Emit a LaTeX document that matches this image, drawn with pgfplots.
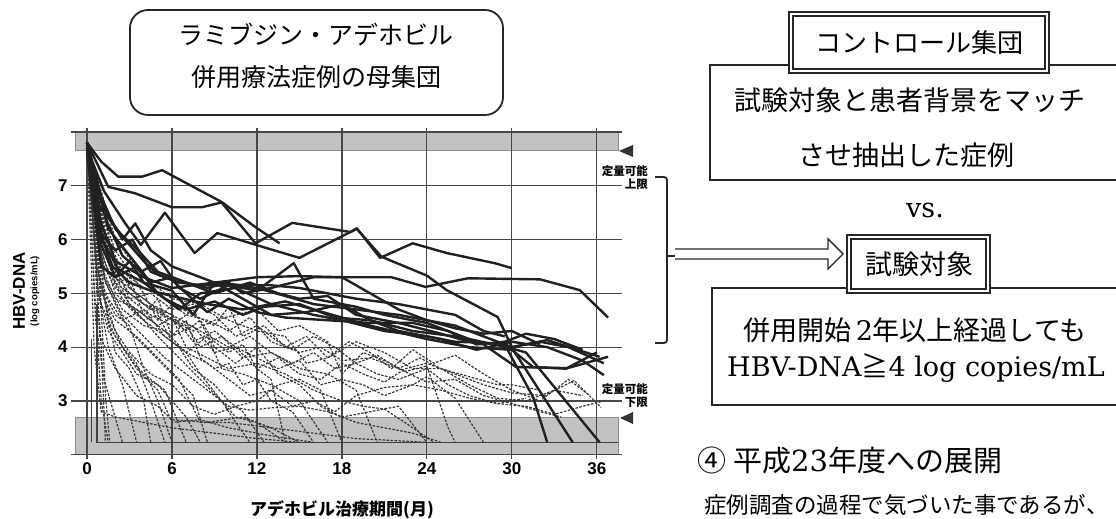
\documentclass[border=0pt]{standalone}
\usepackage{fontspec}
\setmainfont{Liberation Sans}
\newfontfamily\jp{Noto Sans CJK JP}
\newfontfamily\serifb{DejaVu Serif}
\usepackage{pgfplots}
\pgfplotsset{compat=1.18}
\newcommand\fs[1]{\fontsize{#1}{#1}\selectfont}
\pgfplotsset{
  sol/.style={color=black!87, line width=2.4pt, line join=round, mark=none},
  dsh/.style={color=black!78, line width=1.2pt, dash pattern=on 2.5pt off 1.5pt, line join=round, mark=none},
}
\begin{document}
\begin{tikzpicture}
\begin{axis}[
  at={(75pt,64.3pt)}, anchor=south west,
  scale only axis, width=543pt, height=322.7pt,
  xmin=-0.85, xmax=37.5, ymin=2, ymax=8,
  set layers,
  xtick={0,6,...,36}, ytick={3,4,5,6,7},
  extra y ticks={2,8}, extra y tick labels={},
  axis line style={draw=none},
  grid=major,
  major grid style={draw=black!72, line width=1.2pt},
  tick style={draw=black!72, line width=1.2pt},
  tick align=outside, major tick length=4pt,
  /pgf/number format/assume math mode=true,
  tick label style={font=\fs{17}\bfseries},
  clip=false,
]
% bands (limits of quantification)
\addplot[draw=black!45, fill=black!24, line width=0.8pt, on layer=axis background] coordinates {(-0.85,7.66)(37.5,7.66)(37.5,8)(-0.85,8)(-0.85,7.66)};
\addplot[draw=black!45, fill=black!24, line width=0.8pt, on layer=axis background] coordinates {(-0.85,2)(37.5,2)(37.5,2.69)(-0.85,2.69)(-0.85,2)};
% floor line and early drops
\addplot[color=black!75, line width=1.2pt] coordinates {(0.7,4.8)(0.7,2.23)(37.5,2.23)};
\addplot[color=black!75, line width=1.0pt] coordinates {(0.3,4.15)(0.3,2.23)};
% dashed series
\addplot[dsh] coordinates {(0,7.8)(0.5,5.2)(1,3.0)(1.5,2.23)};
\addplot[dsh] coordinates {(0,7.8)(0.6,4.5)(1.2,3.4)(2.5,2.23)};
\addplot[dsh] coordinates {(0,7.8)(0.8,5.0)(1.5,4.0)(2.5,3.3)(3.5,2.23)};
\addplot[dsh] coordinates {(0,7.7)(0.7,5.5)(1.5,4.6)(2.5,4.0)(3.5,3.7)(4.5,3.0)(5.5,2.23)};
\addplot[dsh] coordinates {(0,7.8)(1,5.4)(2,4.8)(3,4.3)(4.5,3.9)(6,3.5)(7.5,3.1)(8.5,2.23)};
\addplot[dsh] coordinates {(0,7.8)(0.9,6.0)(2,5.2)(3,4.8)(4,4.5)(5,4.2)(6.5,3.8)(8,3.4)(9.5,3.0)(10.5,2.7)(12,2.6)(14,2.23)};
\addplot[dsh] coordinates {(0,7.8)(1,5.8)(2,5.0)(3.5,4.6)(5,4.3)(6.5,4.0)(7.5,3.6)(9,3.3)(10,3.0)(11,2.8)(12.5,2.23)};
\addplot[dsh] coordinates {(0,7.75)(1.2,5.6)(2.5,4.9)(4,4.5)(5,4.6)(6,4.1)(7,3.9)(8.5,4.2)(9.5,3.6)(11,3.5)(13,3.3)(15,3.0)(17,2.23)};
\addplot[dsh] coordinates {(0,7.8)(1,6.2)(2,5.2)(3,5.0)(4,4.8)(5.5,4.6)(7,4.4)(8,4.0)(9.5,4.2)(11,3.8)(13,3.9)(15,3.6)(17,3.5)(19,3.2)(20.5,2.23)};
\addplot[dsh] coordinates {(0,7.7)(0.8,5.0)(1.5,4.3)(2.5,3.9)(3.5,3.5)(5,3.3)(6,3.0)(7,2.7)(8,2.23)};
\addplot[dsh] coordinates {(0,7.8)(1,4.8)(2,4.2)(3.5,3.6)(5,3.2)(6,2.6)(8,2.65)(10,2.5)(13,2.35)(16,2.23)};
\addplot[dsh] coordinates {(0,7.8)(0.5,6.0)(1,4.0)(1.3,2.23)};
\addplot[dsh] coordinates {(0,7.8)(1.5,5.8)(3,4.9)(4.5,4.6)(6,4.4)(7.5,4.7)(9,4.0)(10.5,3.7)(12,4.0)(13.5,3.5)(15,3.3)(16.5,2.9)(18,2.7)(20,2.8)(22,2.9)(24,2.23)};
\addplot[dsh] coordinates {(0,7.8)(1,5.5)(2,4.9)(3.5,4.7)(5,4.4)(6,4.55)(7,4.0)(8.5,3.8)(10,3.6)(12,3.7)(14,3.5)(16,3.2)(18,3.0)(19.5,2.9)(21,2.85)(23,2.5)(24.5,2.23)};
\addplot[dsh] coordinates {(0,7.7)(1.3,5.2)(2.5,4.6)(4,4.2)(5.5,3.8)(7,3.5)(8.5,3.2)(10,2.9)(11.5,2.83)(13,2.87)(15,2.9)(17,2.8)(19,2.6)(21,2.5)(23,2.4)(25,2.23)};
\addplot[dsh] coordinates {(0,7.8)(1,5.0)(2,4.5)(3.5,4.2)(5,3.8)(6.5,3.4)(8,2.6)(10,2.6)(13,2.5)(16,2.4)(19,2.3)(24,2.23)};
\addplot[dsh] coordinates {(0,7.8)(2,5.5)(4,4.8)(6,4.6)(8,4.3)(10,4.0)(11.5,4.2)(13,3.9)(14.5,3.7)(16,3.9)(17.5,3.6)(19,3.7)(20.5,3.5)(22,3.4)(24,3.6)(25.5,3.3)(27,3.1)(29,2.95)(31,2.9)(33,2.75)(35,2.9)(36.5,3.0)};
\addplot[dsh] coordinates {(0,7.8)(1.5,5.9)(3,5.1)(4.5,4.8)(6,4.6)(7.5,4.1)(9,4.3)(10.5,4.0)(12,3.6)(13.5,3.8)(15,3.5)(16.5,3.4)(18,3.7)(19.5,3.5)(21,3.35)(22.5,3.6)(24,3.7)(26,3.5)(28,3.3)(30,3.15)(32.3,3.1)(34.4,3.38)(36.3,2.88)};
\addplot[dsh] coordinates {(0,7.8)(1,6.3)(2.5,5.4)(4,5.1)(5.5,4.9)(7,4.6)(8.5,4.5)(10,4.3)(11.5,4.55)(13,4.1)(14.5,3.95)(16,4.2)(17.5,4.0)(19,3.7)(20.5,3.85)(22,3.6)(23.5,3.8)(25,3.6)(27,3.3)(29,3.05)(31,3.0)(33,3.2)(35,3.1)};
\addplot[dsh] coordinates {(0,7.75)(1.2,5.3)(2.5,4.7)(4,4.4)(5.5,4.3)(7,3.9)(8.5,3.7)(10,3.4)(11.5,3.1)(13,3.2)(14.5,2.9)(16,3.0)(17.5,2.8)(19,3.1)(21,3.25)(23,3.3)(25,3.2)(27,3.05)(29,2.95)(31,3.05)};
\addplot[dsh] coordinates {(0,7.8)(1.5,5.6)(3,4.8)(4.5,4.5)(6,4.2)(7.5,4.4)(9,3.9)(10.5,4.0)(12,3.8)(13.5,3.6)(15,3.75)(16.5,3.3)(18,3.4)(19.5,3.3)(21,3.1)(23,3.3)(24,3.45)(26,3.05)(28,2.23)};
\addplot[dsh] coordinates {(0,7.8)(1,5.1)(2,4.3)(3,3.9)(4.5,3.5)(6,3.3)(7.5,2.9)(9,2.75)(10.5,2.9)(12,3.0)(13.5,3.3)(15,3.4)(16.5,3.2)(18,2.23)};
\addplot[dsh] coordinates {(0,7.8)(0.7,5.4)(1.5,4.9)(2.5,4.5)(4,4.7)(5.5,4.2)(7,3.9)(8,3.5)(9.5,3.0)(10.5,2.6)(11.5,2.23)};
\addplot[dsh] coordinates {(0,7.8)(1,6.5)(2,5.8)(3,5.4)(4,5.0)(5,4.5)(6,4.8)(7.5,4.6)(9,4.4)(10,4.75)(11,4.2)(12.5,4.4)(14,4.0)(15.5,4.2)(17,3.8)(18.5,4.1)(20,3.9)(21.5,3.6)(23,3.95)(24.5,3.7)(26,3.85)(28,3.5)(30,3.2)(32,3.0)(34,3.4)(35.5,3.1)};
\addplot[dsh] coordinates {(0,7.8)(1,6.0)(2,5.4)(3,5.0)(4.5,4.7)(6,4.5)(7.5,4.3)(9,4.5)(10.5,4.6)(12,4.7)(13.5,4.3)(15,4.4)(17,4.1)(18,3.5)(19.5,3.9)(21,3.75)(22.5,3.55)(24,3.65)(25.5,2.5)(26,2.23)};
\addplot[dsh] coordinates {(0,7.8)(0.5,4.0)(1,2.8)(2,2.7)(4,2.6)(6,2.5)(9,2.4)(12,2.3)(15,2.23)};
\addplot[dsh] coordinates {(0,7.8)(2,6.0)(4,5.3)(6,4.9)(8,4.8)(10,4.5)(12,4.3)(14,4.2)(15.5,3.7)(17,3.8)(19,4.1)(21,3.9)(23,3.6)(25,3.6)(27,3.45)(29,3.3)(30,3.3)(32,3.2)};
\addplot[dsh] coordinates {(0,7.8)(0.9,4.2)(2,3.6)(3.5,3.1)(5,2.9)(6,2.65)(8.5,2.6)(11,2.7)(13,2.5)(15,2.23)};
\addplot[dsh] coordinates {(0,7.8)(1.5,4.4)(3,3.8)(4,3.5)(5.5,3.2)(7,2.23)};
\addplot[dsh] coordinates {(0,7.8)(0.4,6.5)(0.8,5.8)(1.2,5.0)(2,4.6)(3,4.4)(4,3.6)(5,3.0)(6,2.23)};
\addplot[dsh] coordinates {(0,7.8)(0.6,6.3)(1.2,5.5)(2,5.3)(3,5.1)(4,4.9)(5,4.7)(6,4.5)(7,4.3)(8,4.5)(9,4.1)(10,3.9)(11,4.05)(12,3.6)(13,3.4)(14,2.23)};
\addplot[dsh] coordinates {(0,7.8)(0.3,7.0)(0.6,5.9)(1,5.2)(1.5,4.5)(2,3.9)(3,3.6)(4,3.0)(4.5,2.23)};
\addplot[dsh] coordinates {(0,7.8)(0.7,6.6)(1.4,5.7)(2.2,5.2)(3,5.3)(4,4.6)(5,4.9)(6,4.2)(7,4.5)(8,3.8)(9,3.6)(10,3.7)(11,3.3)(12,3.4)(13,3.0)(14.5,2.8)(16,2.23)};
\addplot[dsh] coordinates {(0,7.8)(0.2,7.2)(0.5,6.4)(0.8,5.6)(1.1,4.2)(1.3,3.1)(1.6,2.23)};
\addplot[dsh] coordinates {(0,7.8)(1,5.6)(2,5.1)(3,4.9)(4.5,5.0)(6,4.7)(7.5,4.8)(9,4.6)(10.5,4.2)(12,4.4)(13.5,4.1)(15,3.9)(16.5,4.0)(18,3.75)(20,3.8)(22,3.6)(24,3.35)(26,3.4)(28,3.1)(30,2.95)(32,2.8)(33.5,2.7)};
% solid series
\addplot[sol] coordinates {(0,7.8)(1,7.45)(2.2,7.17)(3.9,7.17)(5.3,7.29)(9.5,6.7)(11.9,6.23)(13.6,5.93)};
\addplot[sol] coordinates {(0,7.8)(1.5,6.98)(3.4,6.86)(6,6.6)(8.1,6.6)(9.5,6.69)(11.9,5.93)(14.5,6.31)(18.6,6.14)(19.05,6.21)(20.7,5.66)(23,5.93)(25.4,5.75)(28.8,5.56)(30,5.47)};
\addplot[sol] coordinates {(0,7.7)(1.2,6.9)(2.7,6.3)(3.8,5.9)(5.5,6.5)(6.2,6.25)(7.6,5.75)(9.2,6.12)(12.7,5.84)(15,5.66)(19.05,6.2)(20.8,5.68)(24,5.33)(25.4,5.06)(29,4.56)(30.1,3.95)(34.3,2.23)};
\addplot[sol] coordinates {(0,7.8)(1,6.3)(2,5.6)(4,5.3)(6,5.1)(9,5.2)(12,5.3)(15,5.32)(18,5.3)(21.5,5.3)(23.9,5.12)(26.9,5.28)(32,5.26)(34.8,5.06)(36.8,4.55)};
\addplot[sol] coordinates {(0,7.75)(1.3,6.4)(2.5,5.7)(3.8,5.4)(5.2,5.6)(6.5,5.1)(8,4.9)(10,5.15)(12,5.05)(14.6,5.56)(16,4.9)(19,4.75)(21,4.6)(24,4.45)(27,4.15)(29.6,4.0)(31.5,3.07)(32.5,2.23)};
\addplot[sol] coordinates {(0,7.8)(1,5.9)(2,5.3)(3.5,5.5)(5,5.0)(6.5,4.7)(8,5.0)(10.5,5.1)(13,4.8)(16,4.6)(18,4.5)(21,4.3)(24,4.2)(26,4.1)(28.2,4.08)(30,4.0)(32.5,4.13)(36.2,3.82)};
\addplot[sol] coordinates {(0,7.7)(0.8,6.2)(1.8,5.5)(3,5.2)(4.5,5.05)(6,4.95)(8.5,4.8)(11,4.7)(14,4.85)(16,4.7)(20,4.4)(24,4.15)(27,4.0)(30,3.95)(31.5,3.63)(33.8,3.6)(36.8,3.82)};
\addplot[sol] coordinates {(0,7.8)(1.1,6.0)(2.2,5.45)(4,5.2)(6,5.05)(7.5,4.6)(9,5.2)(11,4.9)(13,4.6)(15.5,4.65)(18,4.8)(20,4.5)(23,4.3)(26,4.2)(28,4.05)(30.3,3.63)(33.9,3.61)(36,3.9)};
\addplot[sol] coordinates {(0,7.8)(1.5,6.2)(3,5.7)(4.5,5.2)(6,5.3)(7.5,5.15)(9,5.0)(11.5,5.2)(13.5,5.0)(15,4.9)(17,4.95)(19,4.6)(22,4.45)(25,4.25)(27,4.1)(29,4.05)(31,3.9)(36.2,2.23)};
\addplot[sol] coordinates {(0,7.6)(1,5.5)(2,5.3)(3,5.6)(4,5.2)(5.5,4.9)(7,4.7)(9,4.85)(11,4.6)(12.5,4.75)(15,4.8)(17.5,4.55)(20,4.5)(22,4.3)(25,4.15)(27.5,3.95)(30,4.1)(32.5,4.0)(35,3.75)(36.5,3.48)};
\addplot[sol] coordinates {(0,7.75)(0.9,6.6)(2.4,6.1)(3.6,5.8)(5,5.4)(7,5.2)(8.5,5.1)(10,5.2)(11,5.0)(13,5.1)(16,5.3)(18,5.3)(20,5.0)(22,4.7)(24,4.5)(26,4.4)(28,4.2)(30,4.0)(32,4.1)(34,4.0)(36.5,3.7)};
\addplot[sol] coordinates {(0,7.8)(1,6.8)(2,6.2)(3,5.9)(4,5.6)(5,5.35)(6.5,5.2)(8,5.15)(10,5.15)(12,5.1)(14,4.95)(16,4.8)(19,4.7)(22,4.6)(24,4.5)(26,4.35)(28,4.25)(30,4.3)(32,4.05)};
\addplot[sol] coordinates {(0,7.7)(1,6.1)(2,5.8)(3.2,6.0)(4.5,5.4)(6,5.25)(7,5.0)(8.5,4.65)(10,4.9)(12,4.65)(14,4.55)(17,4.5)(20,4.45)(23,4.45)(25.5,4.3)(27.5,4.05)(29.5,4.1)(31,4.25)(33,4.15)(35,3.95)};
\addplot[sol] coordinates {(0,7.8)(1.2,6.6)(2.5,6.0)(3.4,6.3)(4.5,5.8)(6,5.5)(7.5,5.35)(9,5.2)(11,5.15)(13,5.15)(15,5.1)(17,5.0)(19,4.9)(22,4.8)(24,4.7)(26,4.6)(28,4.3)(29.5,4.2)};
\end{axis}
\begin{scope}[x=1pt,y=-1pt,yshift=519pt]
% axis labels
\node[rotate=90, inner sep=0] at (19,291) {\fs{17}\bfseries HBV-DNA};
\node[rotate=90, inner sep=0] at (35,291) {\fs{9.5}\bfseries (log copies/mL)};
\node[inner sep=0] at (342,510) {\jp\fs{17}\bfseries アデホビル治療期間(月)};
% limit markers
\fill[black!80] (619,151) -- (633,145) -- (633,157) -- cycle;
\fill[black!80] (620,418) -- (633,412) -- (633,424) -- cycle;
\node[anchor=east, inner sep=0] at (648,171) {\jp\fs{11.5}\bfseries 定量可能};
\node[anchor=east, inner sep=0] at (648,184) {\jp\fs{11.5}\bfseries 上限};
\node[anchor=east, inner sep=0] at (648,389) {\jp\fs{11.5}\bfseries 定量可能};
\node[anchor=east, inner sep=0] at (648,402) {\jp\fs{11.5}\bfseries 下限};
% bracket and arrow
\draw[black!85, line width=1.8pt, rounded corners=3pt] (655,177) -- (667,177) -- (667,343) -- (655,343);
\draw[black!85, line width=1.8pt] (667,256) -- (675,256);
\draw[black!85, line width=1.4pt, fill=white] (675,249) -- (828,249) -- (828,239) -- (843,254) -- (828,269) -- (828,259) -- (675,259);
% title box
\draw[black!85, line width=1.8pt, rounded corners=18pt] (130,10) rectangle (503,115);
\node[inner sep=0] at (316,35) {\jp\fs{25}ラミブジン・アデホビル};
\node[inner sep=0] at (316,77) {\jp\fs{25}併用療法症例の母集団};
% control group box
\draw[black!85, line width=1.8pt] (1125,65) -- (710,65) -- (710,180) -- (1125,180);
\draw[black!85, line width=1.8pt, fill=white] (789,12) rectangle (1049,73);
\draw[black!85, line width=1.5pt] (793,16) rectangle (1045,69);
\node[inner sep=0] at (919,43) {\jp\fs{26}コントロール集団};
\node[inner sep=0] at (910,100) {\jp\fs{27}試験対象と患者背景をマッチ};
\node[inner sep=0] at (906,155) {\jp\fs{27}させ抽出した症例};
\node[inner sep=0] at (925,210) {\serifb\fs{27}vs.};
% study subject box
\draw[black!85, line width=1.8pt] (1125,288) -- (712,288) -- (712,405) -- (1125,405);
\draw[black!85, line width=1.8pt, fill=white] (847,235) rectangle (990,293);
\draw[black!85, line width=1.5pt] (851,239) rectangle (986,289);
\node[inner sep=0] at (919,264) {\jp\fs{27}試験対象};
\node[inner sep=0] at (915,330) {\jp\fs{27}併用開始\,{\serifb 2}年以上経過しても};
\node[inner sep=0] at (916,368) {\serifb\fs{27}HBV-DNA{\jp ≧}4 log copies/mL};
% section text
\node[anchor=west, inner sep=0] at (697,460) {\jp\fs{29}④\hspace{7pt}平成{\serifb 23}年度への展開};
\node[anchor=west, inner sep=0] at (704,505) {\jp\fs{22.5}症例調査の過程で気づいた事であるが、};
\end{scope}
\pgfresetboundingbox
\useasboundingbox (0,0) rectangle (1116pt,519pt);
\end{tikzpicture}
\end{document}
